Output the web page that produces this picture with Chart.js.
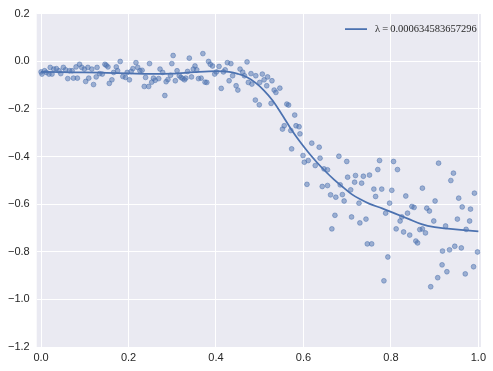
<!DOCTYPE html>
<html>
<head>
<meta charset="utf-8">
<script src="https://cdn.jsdelivr.net/npm/chart.js@4.4.0/dist/chart.umd.min.js"></script>
<style>
  html, body { margin: 0; padding: 0; background: #fff; }
  #wrap { width: 493px; height: 371px; }
</style>
</head>
<body>
<div id="wrap"><canvas id="fitChart" width="493" height="371"></canvas></div>
<script>
// observed samples [x, y]
const SAMPLES = [
  [0.000,-0.045],[0.002,-0.054],[0.008,-0.040],[0.012,-0.047],[0.018,-0.054],[0.021,-0.026],[0.025,-0.054],[0.029,-0.033],
  [0.035,-0.031],[0.041,-0.040],[0.045,-0.052],[0.051,-0.026],[0.056,-0.036],[0.061,-0.073],[0.065,-0.040],[0.071,-0.040],
  [0.074,-0.071],[0.080,-0.024],[0.083,-0.071],[0.088,-0.013],[0.093,-0.026],[0.099,-0.033],[0.102,-0.085],[0.107,-0.026],
  [0.109,-0.071],[0.116,-0.033],[0.120,-0.098],[0.126,-0.066],[0.128,-0.026],[0.134,-0.052],[0.140,-0.054],[0.146,-0.013],
  [0.149,-0.017],[0.153,-0.024],[0.156,-0.093],[0.162,-0.078],[0.166,-0.047],[0.172,-0.024],[0.175,-0.040],[0.181,-0.001],
  [0.187,-0.064],[0.193,-0.068],[0.197,-0.047],[0.202,-0.078],[0.206,-0.043],[0.210,-0.031],[0.217,-0.006],[0.221,-0.026],
  [0.226,-0.040],[0.231,-0.038],[0.236,-0.106],[0.239,-0.068],[0.246,-0.106],[0.248,-0.010],[0.253,-0.088],[0.257,-0.071],
  [0.261,-0.080],[0.269,-0.073],[0.272,-0.033],[0.278,-0.047],[0.283,-0.144],[0.286,-0.086],[0.290,-0.077],[0.296,-0.059],
  [0.299,-0.010],[0.302,0.024],[0.307,-0.082],[0.311,-0.040],[0.316,-0.061],[0.320,-0.068],[0.324,-0.073],[0.328,-0.078],
  [0.331,-0.071],[0.335,-0.043],[0.339,0.013],[0.344,-0.066],[0.348,-0.033],[0.352,-0.020],[0.356,-0.036],[0.360,-0.073],
  [0.366,-0.071],[0.370,0.032],[0.375,-0.088],[0.379,-0.089],[0.383,-0.001],[0.387,-0.013],[0.392,-0.020],[0.397,-0.054],
  [0.401,-0.045],[0.407,-0.022],[0.412,-0.114],[0.417,-0.045],[0.421,-0.036],[0.426,-0.006],[0.430,-0.082],[0.434,-0.010],
  [0.438,-0.061],[0.446,-0.103],[0.450,-0.121],[0.455,-0.033],[0.461,-0.046],[0.465,-0.061],[0.471,-0.003],[0.474,-0.089],
  [0.480,-0.052],[0.482,-0.096],[0.490,-0.163],[0.491,-0.061],[0.499,-0.183],[0.500,-0.089],[0.506,-0.054],[0.510,-0.078],
  [0.516,-0.103],[0.518,-0.066],[0.526,-0.177],[0.528,-0.082],[0.533,-0.121],[0.537,-0.131],[0.546,-0.113],[0.552,-0.285],
  [0.556,-0.271],[0.562,-0.180],[0.566,-0.184],[0.571,-0.291],[0.573,-0.368],[0.580,-0.226],[0.583,-0.271],[0.590,-0.275],
  [0.592,-0.305],[0.599,-0.396],[0.602,-0.424],[0.608,-0.517],[0.611,-0.417],[0.619,-0.344],[0.627,-0.438],[0.636,-0.361],
  [0.638,-0.407],[0.643,-0.526],[0.647,-0.452],[0.655,-0.456],[0.655,-0.522],[0.662,-0.561],[0.665,-0.704],[0.672,-0.647],
  [0.674,-0.571],[0.681,-0.399],[0.684,-0.519],[0.689,-0.560],[0.693,-0.587],[0.699,-0.421],[0.701,-0.487],[0.708,-0.540],
  [0.710,-0.654],[0.717,-0.508],[0.719,-0.480],[0.727,-0.596],[0.729,-0.679],[0.733,-0.512],[0.737,-0.483],[0.743,-0.663],
  [0.746,-0.767],[0.751,-0.478],[0.756,-0.767],[0.761,-0.537],[0.765,-0.568],[0.770,-0.455],[0.774,-0.417],[0.779,-0.537],
  [0.784,-0.922],[0.788,-0.638],[0.793,-0.822],[0.797,-0.596],[0.802,-0.542],[0.806,-0.421],[0.812,-0.704],[0.815,-0.455],
  [0.821,-0.671],[0.825,-0.654],[0.829,-0.717],[0.834,-0.566],[0.838,-0.638],[0.843,-0.730],[0.848,-0.610],[0.853,-0.614],
  [0.857,-0.755],[0.861,-0.763],[0.866,-0.707],[0.872,-0.704],[0.872,-0.533],[0.879,-0.721],[0.882,-0.617],[0.888,-0.629],
  [0.891,-0.947],[0.898,-0.671],[0.901,-0.587],[0.907,-0.909],[0.909,-0.428],[0.917,-0.855],[0.918,-0.797],[0.925,-0.692],
  [0.928,-0.884],[0.934,-0.792],[0.937,-0.501],[0.943,-0.470],[0.946,-0.777],[0.952,-0.663],[0.955,-0.575],[0.961,-0.784],
  [0.963,-0.612],[0.970,-0.893],[0.972,-0.706],[0.980,-0.671],[0.982,-0.621],[0.989,-0.863],[0.991,-0.554],[0.998,-0.801]
];

// smoothed fit
const FIT_X = [0.00, 0.05, 0.10, 0.15, 0.20, 0.25, 0.30, 0.35, 0.40, 0.43, 0.45, 0.47, 0.49, 0.51, 0.53, 0.55, 0.57,
               0.59, 0.61, 0.63, 0.65, 0.67, 0.69, 0.71, 0.73, 0.75, 0.78, 0.81, 0.84, 0.87, 0.90, 0.93, 0.96, 1.00];
const FIT_Y = [-0.045, -0.046, -0.047, -0.049, -0.051, -0.053, -0.052, -0.046, -0.042, -0.045, -0.053, -0.066, -0.090,
               -0.123, -0.166, -0.222, -0.280, -0.333, -0.380, -0.423, -0.462, -0.497, -0.528, -0.558, -0.580, -0.598,
               -0.618, -0.640, -0.662, -0.684, -0.697, -0.703, -0.708, -0.714];

const FIT_LABEL = 'λ\u2009=\u20090.000634583657296';
const X_TICKS = [0.0, 0.2, 0.4, 0.6, 0.8, 1.0];
const Y_TICKS = [0.2, 0.0, -0.2, -0.4, -0.6, -0.8, -1.0, -1.2];

const BLUE = '#4C72B0';
const TEXT = '#262626';

function fmtTick(v) {
  return (v < -1e-9 ? '\u2212' : '') + Math.abs(v).toFixed(1);
}

// grey plot background, seaborn style
const plotBackground = {
  id: 'plotBackground',
  beforeDraw(chart) {
    const { ctx, chartArea: a } = chart;
    ctx.save();
    ctx.fillStyle = '#EAEAF2';
    ctx.fillRect(a.left, a.top, a.right - a.left, a.bottom - a.top);
    ctx.restore();
  }
};

// legend in top right corner, without frame
const fitLegend = {
  id: 'fitLegend',
  afterDatasetsDraw(chart) {
    const { ctx, chartArea: a } = chart;
    const y = a.top + 15.5;
    ctx.save();
    ctx.strokeStyle = BLUE;
    ctx.lineWidth = 1.75;
    ctx.beginPath();
    ctx.moveTo(a.right - 136, y);
    ctx.lineTo(a.right - 114, y);
    ctx.stroke();
    ctx.fillStyle = TEXT;
    ctx.font = '10.5px "Liberation Serif"';
    ctx.textBaseline = 'middle';
    ctx.fillText(FIT_LABEL, a.right - 106, y);
    ctx.restore();
  }
};

const ctx = document.getElementById('fitChart').getContext('2d');
new Chart(ctx, {
  type: 'scatter',
  data: {
    datasets: [
      {
        label: FIT_LABEL,
        data: FIT_X.map((x, i) => ({ x: x, y: FIT_Y[i] })),
        showLine: true,
        borderColor: BLUE,
        borderWidth: 1.75,
        pointRadius: 0,
        cubicInterpolationMode: 'monotone',
        fill: false
      },
      {
        label: 'samples',
        data: SAMPLES.map(p => ({ x: p[0], y: p[1] })),
        backgroundColor: 'rgba(76, 114, 176, 0.5)',
        borderColor: 'rgba(76, 114, 176, 0.5)',
        borderWidth: 1,
        pointRadius: 2.4
      }
    ]
  },
  options: {
    responsive: false,
    animation: false,
    devicePixelRatio: 1,
    layout: { padding: { top: 12.6, right: 12, left: 0, bottom: 0 } },
    plugins: {
      legend: { display: false },
      tooltip: { enabled: false }
    },
    scales: {
      x: {
        type: 'linear',
        min: -0.01,
        max: 1.006,
        afterBuildTicks: s => { s.ticks = X_TICKS.map(v => ({ value: v })); },
        afterFit: s => { s.height = 24; },
        grid: { color: '#ffffff', lineWidth: 1, drawTicks: false },
        border: { display: false },
        ticks: {
          padding: 4,
          color: TEXT,
          font: { family: 'Liberation Sans', size: 11 },
          callback: v => fmtTick(v)
        }
      },
      y: {
        type: 'linear',
        min: -1.2,
        max: 0.2,
        afterBuildTicks: s => { s.ticks = Y_TICKS.map(v => ({ value: v })); },
        afterFit: s => { s.width = 36.7; },
        grid: { color: '#ffffff', lineWidth: 1, drawTicks: false },
        border: { display: false },
        ticks: {
          padding: 7,
          color: TEXT,
          font: { family: 'Liberation Sans', size: 11 },
          callback: v => fmtTick(v)
        }
      }
    }
  },
  plugins: [plotBackground, fitLegend]
});
</script>
</body>
</html>
